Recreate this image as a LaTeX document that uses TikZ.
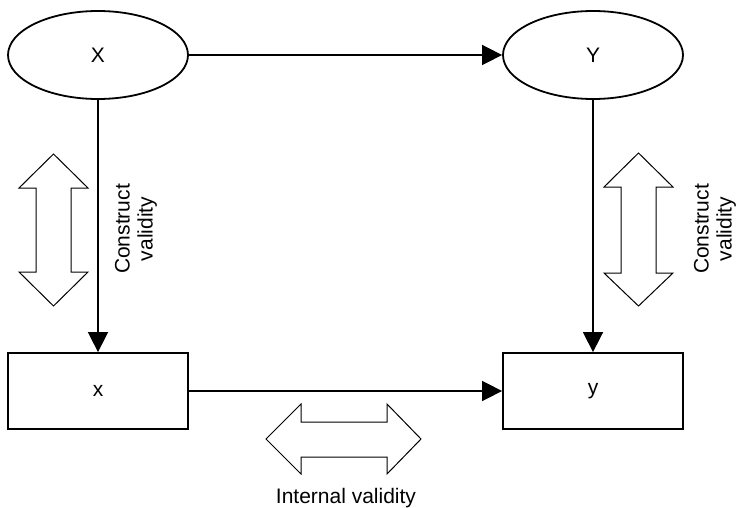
\documentclass[tikz,border=0pt]{standalone}
\usepackage{fontspec}
\setmainfont{Liberation Sans}
\usetikzlibrary{arrows.meta,shapes.geometric}

\begin{document}
\begin{tikzpicture}
            [x=1pt,y=-1pt,font=\fontsize{21}{23}\selectfont,
             ell/.style={ellipse,draw,line width=1.8pt,minimum width=180pt,minimum height=88pt,inner sep=0pt},
             box/.style={rectangle,draw,line width=1.8pt,minimum width=180pt,minimum height=76pt,inner sep=0pt},
             conn/.style={line width=1.6pt,-{Triangle[length=20pt,width=20pt]}},
             hollow/.style={draw,line width=1pt,fill=white},
             lbl/.style={align=center,inner sep=0pt}]
            \useasboundingbox (0,0) rectangle (738,508);
            \node[ell] (X) at (98,55) {X};
            \node[ell] (Y) at (593,55) {Y};
            \node[box] (x) at (98,391) {x};
            \node[box] (y) at (593,391) {y};

            % causal links
            \draw[conn] (X) -- (Y);
            \draw[conn] (X) -- (x);
            \draw[conn] (Y) -- (y);
            \draw[conn] (x) -- (y);

            % validity arrows
            \draw[hollow] (53.5,154) -- (88,188) -- (71,188) -- (71,272) -- (88,272) -- (53.5,306)
                -- (19,272) -- (36,272) -- (36,188) -- (19,188) -- cycle;
            \draw[hollow] (638.5,153) -- (673,187) -- (656,187) -- (656,273) -- (673,273) -- (638.5,306)
                -- (604,273) -- (621,273) -- (621,187) -- (604,187) -- cycle;
            \draw[hollow] (266,439) -- (301,404) -- (301,422) -- (387,422) -- (387,404) -- (421,439)
                -- (387,474) -- (387,457) -- (301,457) -- (301,474) -- cycle;

            \node[lbl,rotate=90] (cvleft) at (136,229) {Construct\\validity};
            \node[lbl,rotate=90] (cvright) at (715,229) {Construct\\validity};
            \node[lbl,anchor=base] (ivlabel) at (346,503) {Internal validity};
        \end{tikzpicture}
\end{document}
